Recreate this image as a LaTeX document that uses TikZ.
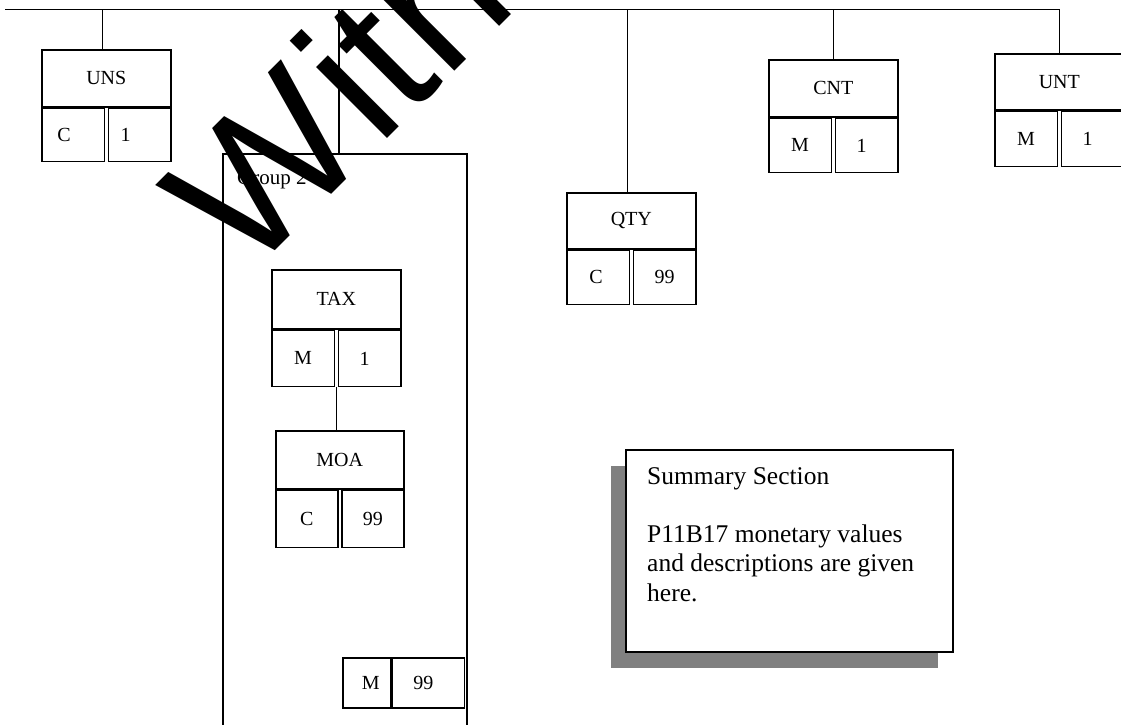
\documentclass[tikz,border=0pt]{standalone}
\usepackage{fontspec}
\setmainfont{Liberation Serif}
\newfontfamily\wmfont{Liberation Sans}
\usetikzlibrary{calc,shadows}
\tikzset{
  ln/.style={line width=1.6pt},
  tagcell/.style={draw, line width=1.6pt, rectangle, inner sep=0pt, anchor=north west, font=\fontsize{20}{24}\selectfont},
  subcell/.style={draw, line width=1.6pt, rectangle, inner sep=0pt, font=\fontsize{20}{24}\selectfont},
  sumbox/.style={draw, line width=2pt, fill=white, rectangle, inner sep=0pt, anchor=north west,
    general shadow={fill=gray, shadow xshift=-15pt, shadow yshift=-16pt}},
  sumtext/.style={inner sep=0pt, align=left, font=\fontsize{25.5}{29.3}\selectfont},
  grpbox/.style={draw, line width=1.6pt, rectangle, inner sep=0pt, anchor=north west},
  wmark/.style={inner sep=0pt, anchor=base west, rotate=45, font=\wmfont\fontsize{190}{190}\selectfont}
}
\newcommand{\shiftlbl}[2]{\hspace*{#1}#2\hspace*{-#1}}
\newcommand{\segbox}[9]{%
  \node[tagcell, minimum width=#4pt, minimum height=#5pt] (#1) at (#2,#3) {#7};
  \node[subcell, minimum width=#4pt/2-2pt, minimum height=#6pt, anchor=north west] (#1-st) at (#1.south west) {#8};
  \node[subcell, minimum width=#4pt/2-2pt, minimum height=#6pt, anchor=north east] (#1-rp) at (#1.south east) {#9};
}
\begin{document}
\begin{tikzpicture}[x=1pt, y=-1pt]
\useasboundingbox (0,0) rectangle (1121,725);
\clip (0,0) rectangle (1121,725);

% segment boxes
\segbox{UNS}{41}{49}{129}{57}{53}{UNS}{\shiftlbl{-9pt}{C}}{\shiftlbl{-14pt}{1}}
\segbox{UNT}{994}{53}{129}{56}{55}{UNT}{M}{\shiftlbl{-5pt}{1}}
\segbox{CNT}{768}{59}{129}{57}{54}{CNT}{M}{\shiftlbl{-5pt}{1}}
\segbox{QTY}{566}{192}{129}{56}{54}{QTY}{\shiftlbl{-2pt}{C}}{99}
\segbox{TAX}{271}{269}{129}{59}{56}{TAX}{M}{\shiftlbl{-5pt}{1}}
\segbox{MOA}{275}{430}{128}{58}{57}{MOA}{C}{99}

% group 2
\node[grpbox, minimum width=244pt, minimum height=620pt] (grp) at (222,153) {};
\node[inner sep=0pt, anchor=base west, font=\fontsize{21}{24}\selectfont] (grplbl) at (237,184) {Group 2};
\node[subcell, minimum width=48pt, minimum height=50pt, anchor=north west] (g2m) at (342,657) {\shiftlbl{4pt}{M}};
\node[subcell, minimum width=72pt, minimum height=50pt, anchor=north west] (g2r) at (g2m.north east) {\shiftlbl{-5pt}{99}};

% summary
\node[sumbox, minimum width=327pt, minimum height=202pt] (sum) at (625,449) {};
\node[sumtext, anchor=north west] (sumtxt) at (647,467) {Summary Section\\[29.3pt]P11B17 monetary values\\and descriptions are given\\here.};

% connectors
\coordinate (busL) at (5,9.5);
\draw[ln] (busL) -| (UNT.north);
\coordinate (unsTop) at ($(UNS.north)+(-4,0)$);
\draw[ln] (unsTop) -- (unsTop |- busL);
\draw[ln] (CNT.north) -- (CNT.north |- busL);
\coordinate (qtyTop) at ($(QTY.north)+(-4,0)$);
\draw[ln] (qtyTop) -- (qtyTop |- busL);
\coordinate (grpTop) at ($(grp.north west)+(117,0)$);
\draw[ln] (grpTop) -- (grpTop |- busL);
\draw[ln] (TAX.south |- TAX-st.south) -- (TAX.south |- MOA.north);

% watermark
\node[wmark] (wm) at (247,279) {W\kern6pt ith};
\end{tikzpicture}
\end{document}
